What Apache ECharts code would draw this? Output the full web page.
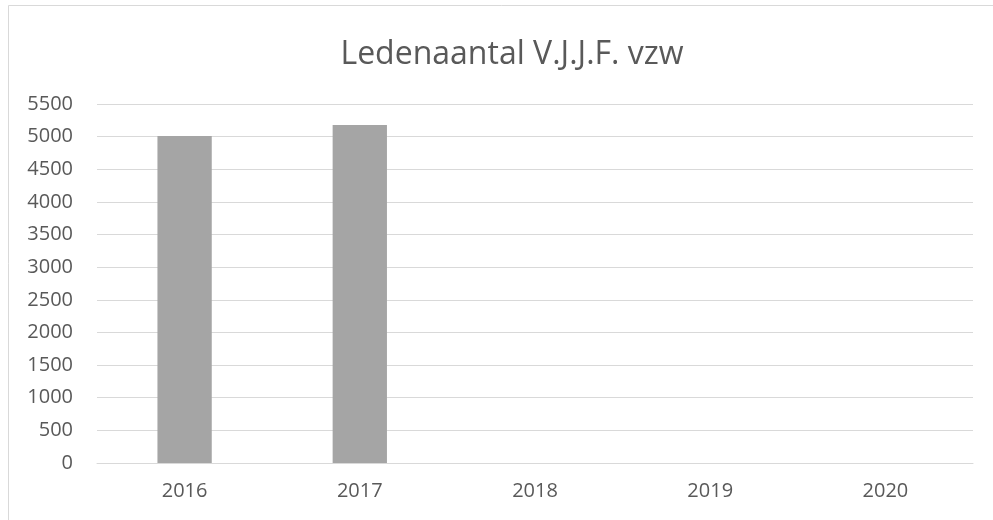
<!DOCTYPE html>
<html>
<head>
<meta charset="utf-8">
<script src="https://cdn.jsdelivr.net/npm/echarts@6/dist/echarts.min.js"></script>
<style>
html, body { margin: 0; padding: 0; background: #fff; }
#chart { width: 993px; height: 520px; }
</style>
</head>
<body>
<div id="chart"></div>
<script>
var years = ['2016', '2017', '2018', '2019', '2020'];
var members = [5010, 5180, null, null, null];

var myChart = echarts.init(document.getElementById('chart'));
var option = {
  animation: false,
  backgroundColor: '#fff',
  textStyle: { fontFamily: 'Open Sans' },
  title: {
    text: 'Ledenaantal V.J.J.F. vzw',
    left: 507,
    textAlign: 'center',
    top: 34,
    textStyle: { color: '#595959', fontSize: 32, fontWeight: 'normal', fontFamily: 'Open Sans' }
  },
  graphic: [{
    type: 'rect',
    shape: { x: 8.5, y: 5.5, width: 1100, height: 700 },
    style: { fill: 'none', stroke: '#d9d9d9', lineWidth: 1 },
    silent: true
  }],
  grid: { left: 97, right: 20, top: 104, bottom: 57 },
  xAxis: {
    type: 'category',
    data: years,
    axisLine: { lineStyle: { color: '#d9d9d9', width: 1 } },
    axisTick: { show: false },
    axisLabel: { color: '#595959', fontSize: 20, margin: 18 }
  },
  yAxis: {
    type: 'value',
    min: 0,
    max: 5500,
    interval: 500,
    axisLine: { show: false },
    axisTick: { show: false },
    splitLine: { lineStyle: { color: '#d9d9d9', width: 1 } },
    axisLabel: {
      color: '#595959',
      fontSize: 20,
      margin: 24,
      formatter: function (v) { return String(v); }
    }
  },
  series: [{
    type: 'bar',
    data: members,
    barWidth: '31%',
    itemStyle: { color: '#a5a5a5' }
  }]
};
myChart.setOption(option);
</script>
</body>
</html>
